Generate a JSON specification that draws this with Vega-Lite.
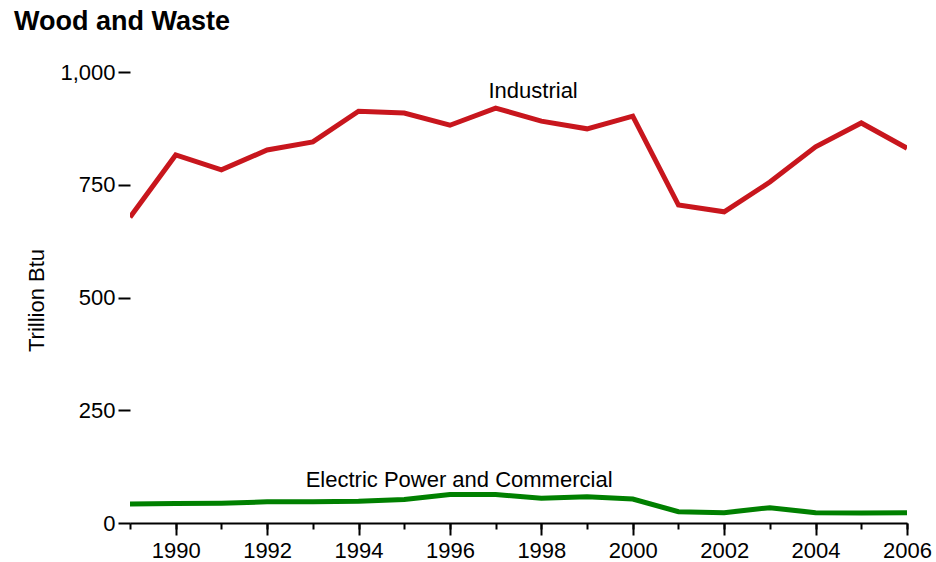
{
  "$schema": "https://vega.github.io/schema/vega-lite/v6.json",
  "width": 777,
  "height": 451,
  "autosize": "none",
  "padding": {"left": 130, "top": 72, "right": 29, "bottom": 39},
  "background": "white",
  "title": {
    "text": "Wood and Waste",
    "anchor": "start",
    "frame": "group",
    "dx": -116,
    "offset": 4,
    "baseline": "alphabetic",
    "font": "Liberation Sans",
    "fontSize": 27,
    "fontWeight": "bold",
    "color": "black"
  },
  "config": {
    "view": {"stroke": null},
    "axis": {"grid": false, "labelFont": "Liberation Sans", "titleFont": "Liberation Sans", "labelColor": "black", "titleColor": "black", "tickColor": "black", "domainColor": "black"}
  },
  "resolve": {"scale": {"x": "shared", "y": "shared"}, "axis": {"x": "independent"}},
  "layer": [
    {
      "data": {
        "values": [
          {"year": 1989, "value": 678, "series": "Industrial"},
          {"year": 1990, "value": 816, "series": "Industrial"},
          {"year": 1991, "value": 783, "series": "Industrial"},
          {"year": 1992, "value": 827, "series": "Industrial"},
          {"year": 1993, "value": 845, "series": "Industrial"},
          {"year": 1994, "value": 913, "series": "Industrial"},
          {"year": 1995, "value": 909, "series": "Industrial"},
          {"year": 1996, "value": 882, "series": "Industrial"},
          {"year": 1997, "value": 920, "series": "Industrial"},
          {"year": 1998, "value": 891, "series": "Industrial"},
          {"year": 1999, "value": 874, "series": "Industrial"},
          {"year": 2000, "value": 902, "series": "Industrial"},
          {"year": 2001, "value": 705, "series": "Industrial"},
          {"year": 2002, "value": 690, "series": "Industrial"},
          {"year": 2003, "value": 756, "series": "Industrial"},
          {"year": 2004, "value": 834, "series": "Industrial"},
          {"year": 2005, "value": 887, "series": "Industrial"},
          {"year": 2006, "value": 831, "series": "Industrial"},
          {"year": 1989, "value": 42, "series": "Electric Power and Commercial"},
          {"year": 1990, "value": 43, "series": "Electric Power and Commercial"},
          {"year": 1991, "value": 44, "series": "Electric Power and Commercial"},
          {"year": 1992, "value": 47, "series": "Electric Power and Commercial"},
          {"year": 1993, "value": 47, "series": "Electric Power and Commercial"},
          {"year": 1994, "value": 48, "series": "Electric Power and Commercial"},
          {"year": 1995, "value": 52, "series": "Electric Power and Commercial"},
          {"year": 1996, "value": 63, "series": "Electric Power and Commercial"},
          {"year": 1997, "value": 63, "series": "Electric Power and Commercial"},
          {"year": 1998, "value": 55, "series": "Electric Power and Commercial"},
          {"year": 1999, "value": 58, "series": "Electric Power and Commercial"},
          {"year": 2000, "value": 53, "series": "Electric Power and Commercial"},
          {"year": 2001, "value": 25, "series": "Electric Power and Commercial"},
          {"year": 2002, "value": 23, "series": "Electric Power and Commercial"},
          {"year": 2003, "value": 34, "series": "Electric Power and Commercial"},
          {"year": 2004, "value": 23, "series": "Electric Power and Commercial"},
          {"year": 2005, "value": 22, "series": "Electric Power and Commercial"},
          {"year": 2006, "value": 23, "series": "Electric Power and Commercial"}
        ]
      },
      "mark": {"type": "line", "strokeWidth": 5, "clip": true},
      "encoding": {
        "x": {
          "field": "year", "type": "quantitative",
          "scale": {"domain": [1989, 2006], "nice": false, "zero": false},
          "axis": {
            "orient": "bottom",
            "values": [1990, 1992, 1994, 1996, 1998, 2000, 2002, 2004, 2006],
            "format": "d",
            "title": null,
            "domain": true,
            "domainWidth": 2,
            "tickSize": 12,
            "tickWidth": 2,
            "labelFontSize": 22,
            "labelPadding": 5,
            "labelFlush": false,
            "labelOverlap": false
          }
        },
        "y": {
          "field": "value", "type": "quantitative",
          "scale": {"domain": [0, 1000], "nice": false},
          "axis": {
            "values": [0, 250, 500, 750, 1000],
            "format": ",d",
            "domain": false,
            "tickSize": 12,
            "tickWidth": 2,
            "labelFontSize": 22,
            "labelPadding": 3,
            "title": "Trillion Btu",
            "titleFontSize": 22,
            "titleFontWeight": "normal",
            "titleAngle": -90,
            "titleX": -87,
            "titleY": 228,
            "titleBaseline": "alphabetic",
            "titleAlign": "center"
          }
        },
        "color": {
          "field": "series", "type": "nominal",
          "scale": {"domain": ["Industrial", "Electric Power and Commercial"], "range": ["#c8161d", "#008000"]},
          "legend": null
        }
      }
    },
    {
      "data": {
        "values": [
          {"year": 1997.82, "value": 942, "label": "Industrial"},
          {"year": 1996.2, "value": 80, "label": "Electric Power and Commercial"}
        ]
      },
      "mark": {"type": "text", "font": "Liberation Sans", "fontSize": 22, "baseline": "alphabetic", "align": "center", "color": "black"},
      "encoding": {
        "x": {
          "field": "year", "type": "quantitative",
          "scale": {"domain": [1989, 2006], "nice": false, "zero": false},
          "axis": {
            "orient": "bottom",
            "values": [1989, 1990, 1991, 1992, 1993, 1994, 1995, 1996, 1997, 1998, 1999, 2000, 2001, 2002, 2003, 2004, 2005, 2006],
            "labels": false,
            "title": null,
            "domain": false,
            "tickSize": 6,
            "tickWidth": 2
          }
        },
        "y": {"field": "value", "type": "quantitative"},
        "text": {"field": "label"}
      }
    }
  ]
}
